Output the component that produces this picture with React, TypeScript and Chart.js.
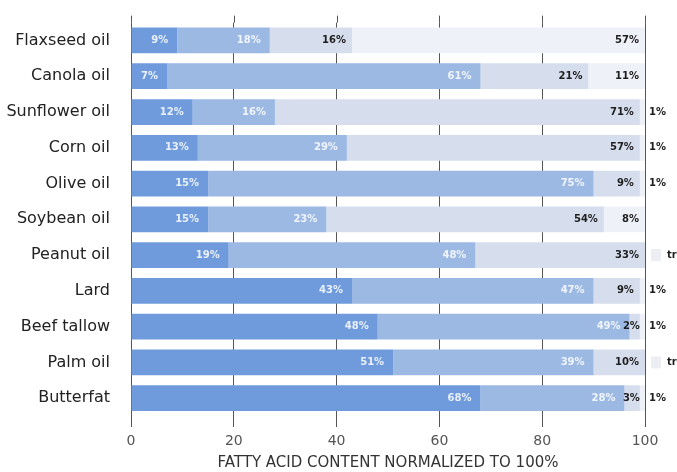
import React, { useEffect, useRef } from 'react';
import { Chart, registerables } from 'chart.js';

Chart.register(...registerables);

const categories = ['Flaxseed oil', 'Canola oil', 'Sunflower oil', 'Corn oil', 'Olive oil', 'Soybean oil', 'Peanut oil', 'Lard', 'Beef tallow', 'Palm oil', 'Butterfat'];
const saturated = [9, 7, 12, 13, 15, 15, 19, 43, 48, 51, 68];
const monounsaturated = [18, 61, 16, 29, 75, 23, 48, 47, 49, 39, 28];
const linoleic = [16, 21, 71, 57, 9, 54, 33, 9, 2, 10, 3];
const alphaLinolenic = [57, 11, 1, 1, 1, 8, 0, 1, 1, 0, 1];
const alphaLinolenicLabels = ['57%', '11%', '1%', '1%', '1%', '8%', 'tr', '1%', '1%', 'tr', '1%'];
const xTicks = [0, 20, 40, 60, 80, 100];
const xTitle = 'FATTY ACID CONTENT NORMALIZED TO 100%';

const seriesNames = ['Saturated', 'Monounsaturated', 'Linoleic acid', 'Alpha-linolenic acid'];
const seriesColors = ['#6f9bdc', '#9cb9e4', '#d6deee', '#eef1f7'];
const labelColors = ['rgba(255,255,255,0.85)', 'rgba(255,255,255,0.85)', '#1e1e1e', '#1e1e1e'];

const FONT = '"DejaVu Sans", sans-serif';

const segLabels = {
  id: 'segLabels',
  beforeDatasetsDraw(chart: any) {
    const { ctx, chartArea, scales } = chart;
    const x = scales.x;
    ctx.save();
    ctx.strokeStyle = '#555';
    ctx.lineWidth = 1;
    x.ticks.forEach((t: any) => {
      const px = Math.round(x.getPixelForValue(t.value)) + 0.5;
      ctx.beginPath();
      ctx.moveTo(px, chartArea.top - 7);
      ctx.lineTo(px, chartArea.top);
      ctx.stroke();
    });
    ctx.restore();
  },
  afterDatasetsDraw(chart: any) {
    const { ctx, scales } = chart;
    const x = scales.x;
    const right = x.getPixelForValue(100);
    ctx.save();
    ctx.font = 'bold 10px ' + FONT;
    ctx.textBaseline = 'middle';
    chart.data.datasets.forEach((ds: any, i: number) => {
      const meta = chart.getDatasetMeta(i);
      meta.data.forEach((el: any, j: number) => {
        const v = ds.data[j];
        const text = i === 3 ? alphaLinolenicLabels[j] : `${v}%`;
        const y = el.y;
        if (i === 3 && v <= 1) {
          ctx.textAlign = 'left';
          if (text === 'tr') {
            ctx.fillStyle = '#eceef3';
            ctx.fillRect(right + 6, y - 6, 10, 12);
            ctx.fillStyle = '#1e1e1e';
            ctx.fillText('tr', right + 22, y);
          } else {
            ctx.fillStyle = '#1e1e1e';
            ctx.fillText(text, right + 4, y);
          }
          return;
        }
        ctx.textAlign = 'right';
        ctx.fillStyle = labelColors[i];
        const pad = v < 5 ? 0 : i < 2 ? 9 : 6;
        ctx.fillText(text, el.x - pad, y);
      });
    });
    ctx.restore();
  },
};

export default function App() {
  const ref = useRef<HTMLCanvasElement>(null);
  useEffect(() => {
    if (!ref.current) return;
    const values = [saturated, monounsaturated, linoleic, alphaLinolenic];
    const chart = new Chart(ref.current, {
      type: 'bar',
      data: {
        labels: categories,
        datasets: values.map((d, i) => ({
          label: seriesNames[i],
          data: d,
          backgroundColor: seriesColors[i],
          borderWidth: 0,
          barPercentage: 0.72,
          categoryPercentage: 1,
        })),
      },
      options: {
        indexAxis: 'y',
        animation: false,
        responsive: true,
        maintainAspectRatio: false,
        layout: { padding: { top: 20, right: 32, left: 0, bottom: 0 } },
        plugins: {
          legend: { display: false },
          tooltip: { enabled: false },
        },
        scales: {
          x: {
            stacked: true,
            min: 0,
            max: 100,
            afterBuildTicks: (scale: any) => {
              scale.ticks = xTicks.map((v) => ({ value: v }));
            },
            afterFit: (scale: any) => {
              scale.height = 56;
            },
            grid: { color: '#555', lineWidth: 1, tickLength: 11, drawTicks: true },
            border: { display: false },
            ticks: { padding: 6, color: '#555', font: { family: FONT, size: 14 } },
            title: {
              display: true,
              text: xTitle,
              color: '#333',
              font: { family: FONT, size: 15 },
              padding: { top: 0, bottom: 0 },
            },
          },
          y: {
            stacked: true,
            afterFit: (scale: any) => {
              scale.width = 131;
            },
            grid: { display: false },
            border: { display: false },
            ticks: { padding: 13, color: '#222', font: { family: FONT, size: 16 } },
          },
        },
      },
      plugins: [segLabels],
    });
    return () => chart.destroy();
  }, []);
  return (
    <div style={{ position: 'absolute', left: 0, top: 0, width: 677, height: 472 }}>
      <canvas ref={ref} />
    </div>
  );
}
